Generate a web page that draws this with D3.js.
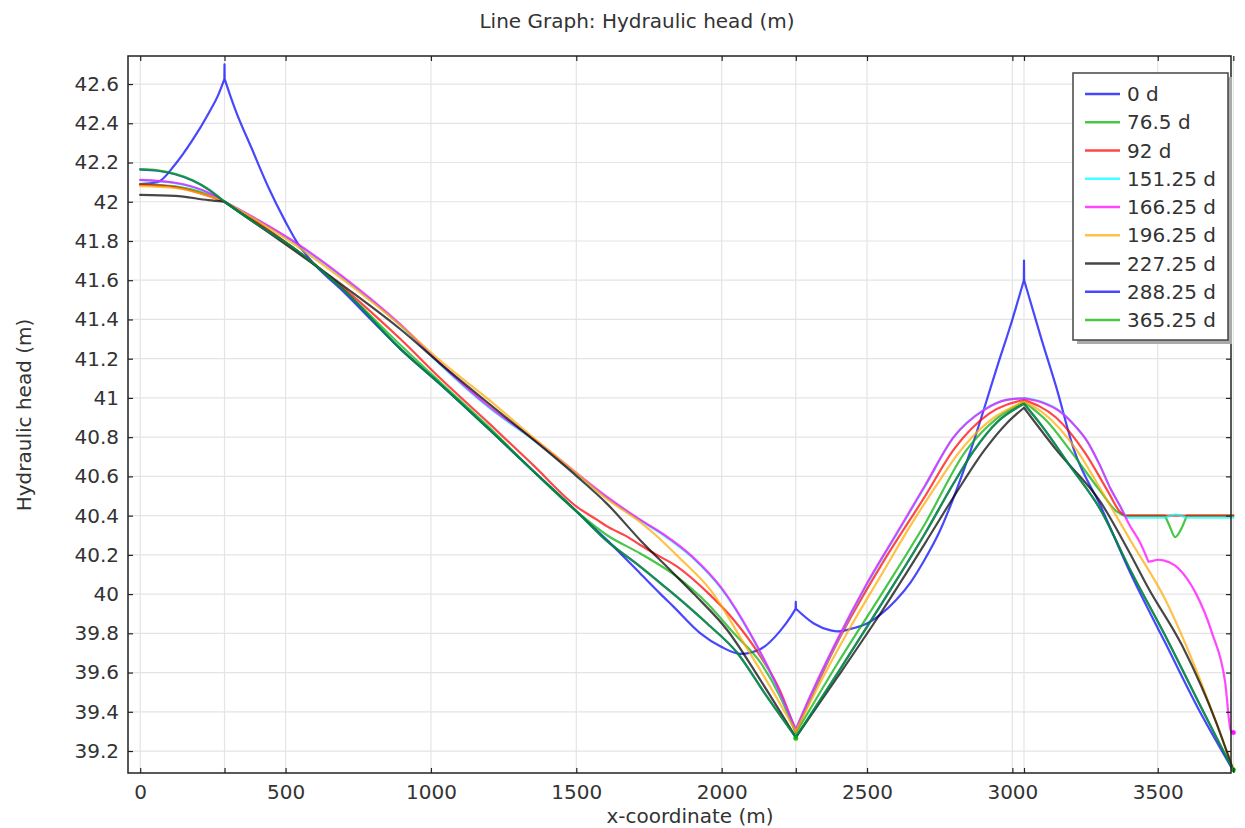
<!DOCTYPE html>
<html>
<head>
<meta charset="utf-8">
<script src="https://cdn.jsdelivr.net/npm/d3@7"></script>
<style>
  body { margin: 0; background: #fff; }
  text { font-family: "DejaVu Sans", sans-serif; fill: #333; }
</style>
</head>
<body>
<div id="chart"></div>
<script>
// ---- data: [x-coordinate (m), hydraulic head (m)] ----
const seriesNames = ["0 d", "76.5 d", "92 d", "151.25 d", "166.25 d", "196.25 d", "227.25 d", "288.25 d", "365.25 d"];

const head_0d = [[0,42.09],[60,42.10],[120,42.19],[178,42.31],[235,42.45],[270,42.55],[289.5,42.625],[290,42.70],[290.5,42.625],
  [310,42.54],[327,42.47],[384,42.27],[442,42.07],[499,41.90],[545,41.78],[600,41.68],[700,41.54],[800,41.39],[895,41.25],
  [1032,41.07],[1200,40.84],[1350,40.63],[1502,40.42],[1606,40.275],[1720,40.105],[1790,40.0],[1835,39.935],[1927,39.80],
  [2000,39.73],[2065,39.695],[2134,39.72],[2200,39.81],[2240,39.89],[2254.5,39.925],[2255,39.96],[2255.5,39.925],[2317,39.85],
  [2375,39.815],[2400,39.81],[2450,39.825],[2500,39.85],[2550,39.9],[2600,39.97],[2650,40.06],[2700,40.18],[2750,40.32],
  [2800,40.5],[2856,40.73],[2950,41.17],[3000,41.40],[3039.5,41.60],[3040,41.70],[3040.5,41.60],[3100,41.30],[3150,41.06],
  [3212,40.735],[3303,40.45],[3410,40.094],[3525,39.754],[3640,39.414],[3760,39.10]];

const head_76d = [[0,42.09],[120,42.078],[235,42.035],[290,42.0],[407,41.89],[522,41.77],[700,41.55],[895,41.27],[1032,41.08],
  [1200,40.85],[1350,40.63],[1502,40.42],[1606,40.30],[1720,40.207],[1835,40.1],[1950,39.953],[2042,39.80],[2134,39.65],
  [2200,39.48],[2255,39.29],[2400,39.65],[2550,40.0],[2700,40.36],[2840,40.73],[2950,40.90],[3040,40.98],[3120,40.88],
  [3200,40.73],[3300,40.53],[3360,40.42],[3385,40.40],[3525,40.40],[3540,40.35],[3560,40.29],[3580,40.33],[3600,40.40],[3760,40.40]];

const head_92d = [[0,42.087],[120,42.075],[235,42.03],[290,42.0],[407,41.89],[522,41.77],[700,41.56],[895,41.30],[1032,41.10],
  [1200,40.87],[1350,40.66],[1502,40.445],[1572,40.378],[1606,40.345],[1675,40.293],[1720,40.25],[1767,40.208],[1847,40.14],
  [1950,40.01],[2042,39.868],[2134,39.681],[2200,39.51],[2255,39.30],[2400,39.76],[2550,40.15],[2700,40.50],[2800,40.74],
  [2920,40.92],[3040,40.99],[3150,40.90],[3250,40.72],[3330,40.52],[3370,40.42],[3390,40.40],[3760,40.40]];

const head_151d = [[0,42.11],[120,42.095],[235,42.045],[290,42.0],[407,41.905],[522,41.80],[700,41.61],[895,41.37],[1032,41.17],
  [1200,40.95],[1376,40.76],[1502,40.61],[1606,40.49],[1721,40.375],[1800,40.30],[1900,40.185],[2000,40.025],[2100,39.79],
  [2180,39.56],[2255,39.31],[2300,39.46],[2400,39.77],[2500,40.05],[2600,40.30],[2700,40.55],[2798,40.80],[2902,40.94],
  [2980,40.99],[3040,41.0],[3100,40.98],[3166,40.93],[3220,40.85],[3257,40.78],[3300,40.66],[3340,40.53],[3370,40.45],
  [3392,40.39],[3520,40.39],[3545,40.40],[3560,40.405],[3580,40.40],[3600,40.39],[3760,40.39]];

const head_166d = [[0,42.112],[120,42.097],[235,42.046],[290,42.0],[407,41.906],[522,41.804],[700,41.615],[895,41.375],[1032,41.175],
  [1200,40.955],[1376,40.765],[1502,40.615],[1606,40.495],[1721,40.378],[1800,40.305],[1900,40.19],[2000,40.03],[2100,39.795],
  [2180,39.565],[2255,39.31],[2300,39.465],[2400,39.775],[2500,40.055],[2600,40.305],[2700,40.555],[2798,40.80],[2902,40.938],
  [2980,40.99],[3040,40.998],[3100,40.978],[3166,40.928],[3220,40.85],[3257,40.78],[3300,40.66],[3340,40.53],[3370,40.45],
  [3400,40.36],[3440,40.26],[3468,40.165],[3480,40.168],[3500,40.175],[3520,40.172],[3560,40.145],[3600,40.08],[3629,40.01],
  [3686,39.805],[3732,39.55],[3752,39.30],[3760,39.295]];

const head_196d = [[0,42.08],[120,42.07],[235,42.03],[290,42.0],[407,41.90],[522,41.79],[700,41.60],[895,41.37],[1032,41.19],
  [1200,40.99],[1350,40.80],[1502,40.615],[1600,40.49],[1710,40.378],[1766,40.31],[1858,40.18],[1962,40.02],[2076,39.75],
  [2170,39.52],[2255,39.30],[2350,39.58],[2450,39.85],[2550,40.1],[2650,40.35],[2750,40.58],[2810,40.71],[2925,40.887],
  [3040,40.98],[3100,40.93],[3223,40.73],[3303,40.536],[3410,40.264],[3525,39.975],[3640,39.584],[3700,39.35],[3760,39.11]];

const head_227d = [[0,42.035],[120,42.03],[235,42.008],[290,42.0],[407,41.88],[522,41.76],[700,41.57],[895,41.35],[1032,41.175],
  [1200,40.97],[1350,40.79],[1502,40.60],[1606,40.46],[1720,40.275],[1835,40.105],[1905,40.0],[2019,39.817],[2134,39.56],
  [2255,39.27],[2400,39.58],[2550,39.91],[2700,40.26],[2800,40.5],[2902,40.73],[2980,40.87],[3040,40.95],[3154,40.73],
  [3303,40.47],[3400,40.22],[3468,40.03],[3583,39.74],[3650,39.53],[3700,39.35],[3760,39.10]];

const head_288d = [[0,42.164],[60,42.158],[120,42.14],[180,42.108],[235,42.062],[290,42.0],[407,41.88],[522,41.77],[700,41.55],
  [895,41.25],[1032,41.07],[1200,40.84],[1350,40.63],[1502,40.42],[1606,40.27],[1720,40.14],[1790,40.055],[1835,40.0],
  [1950,39.85],[2054,39.70],[2150,39.49],[2255,39.27],[2400,39.60],[2550,39.95],[2700,40.31],[2800,40.57],[2867,40.73],
  [2950,40.88],[3040,40.97],[3100,40.86],[3200,40.65],[3303,40.43],[3410,40.11],[3525,39.79],[3640,39.45],[3760,39.10]];

const head_365d = [[0,42.166],[60,42.16],[120,42.142],[180,42.11],[235,42.064],[290,42.0],[407,41.88],[522,41.77],[700,41.55],
  [895,41.25],[1032,41.07],[1200,40.84],[1350,40.63],[1502,40.42],[1606,40.27],[1720,40.14],[1790,40.055],[1835,40.0],
  [1950,39.85],[2054,39.70],[2150,39.49],[2255,39.27],[2400,39.60],[2550,39.95],[2700,40.31],[2800,40.57],[2867,40.73],
  [2950,40.88],[3040,40.97],[3100,40.86],[3200,40.65],[3303,40.43],[3410,40.11],[3525,39.79],[3640,39.45],[3760,39.10]];

const allSeries = [head_0d, head_76d, head_92d, head_151d, head_166d, head_196d, head_227d, head_288d, head_365d];

// x where a curve has a corner (wells at 290, 2255, 3040 and a few bends on the right)
const wellKinks = [290, 2255, 3040];
const spikeKinks = [289.5, 290, 290.5, 2254.5, 2255, 2255.5, 3039.5, 3040, 3040.5];
const seriesKinks = [
  spikeKinks,
  wellKinks.concat([3385, 3525, 3600]),
  wellKinks.concat([3390]),
  wellKinks.concat([3392]),
  wellKinks.concat([3468]),
  wellKinks,
  wellKinks,
  wellKinks,
  wellKinks
];

// end-point markers seen on the picture: [series index, x, head]
const endDots = [[8, 2255, 39.265], [8, 3760, 39.105], [4, 3760, 39.295]];

// ticks
const xTicks = [0, 500, 1000, 1500, 2000, 2500, 3000, 3500];
const xPointTicks = [290, 2255, 3040, 3760];
const yTicks = [39.2, 39.4, 39.6, 39.8, 40, 40.2, 40.4, 40.6, 40.8, 41, 41.2, 41.4, 41.6, 41.8, 42, 42.2, 42.4, 42.6];

//////////////////////////////////////////////////////////////////////////////

const svgWidth = 1245, svgHeight = 828;
const plot = { left: 128, right: 1231, top: 56, bottom: 773 };

// pure colours, drawn semi-transparent so overlapping curves mix
const colors = ["#0000ff", "#00b000", "#ff0000", "#00ffff", "#ff00ff", "#ffaa00", "#000000", "#0000ff", "#00b000"];
const lineOpacity = 0.72;

const svg = d3.select("#chart")
  .append("svg")
  .attr("width", svgWidth)
  .attr("height", svgHeight);

const x = d3.scaleLinear().domain([-42, 3752]).range([plot.left, plot.right]);
const y = d3.scaleLinear().domain([39.088, 42.743]).range([plot.bottom, plot.top]);

// grid
const grid = svg.append("g");
grid.selectAll(".gx")
  .data(xTicks.concat(xPointTicks))
  .enter()
  .append("line")
  .attr("x1", d => x(d)).attr("x2", d => x(d))
  .attr("y1", plot.top).attr("y2", plot.bottom)
  .attr("stroke", "#e4e4e4")
  .attr("stroke-width", 1.2);
grid.selectAll(".gy")
  .data(yTicks)
  .enter()
  .append("line")
  .attr("x1", plot.left).attr("x2", plot.right)
  .attr("y1", d => y(d)).attr("y2", d => y(d))
  .attr("stroke", "#e4e4e4")
  .attr("stroke-width", 1.2);

//////////////////////////////////////////////////////////////////////////////
// lines: smooth between corners, sharp at the corners

const line = d3.line()
  .x(d => x(d[0]))
  .y(d => y(d[1]))
  .curve(d3.curveMonotoneX);

function splitAtKinks(data, kinks) {
  const parts = [];
  let cur = [];
  data.forEach(function(p, i) {
    cur.push(p);
    if (i > 0 && i < data.length - 1 && kinks.includes(p[0])) {
      parts.push(cur);
      cur = [p];
    }
  });
  parts.push(cur);
  return parts;
}

svg.append("g")
  .selectAll("path")
  .data(allSeries)
  .enter()
  .append("path")
  .attr("d", (d, i) => splitAtKinks(d, seriesKinks[i]).map(seg => line(seg)).join(""))
  .attr("fill", "none")
  .attr("stroke", (d, i) => colors[i])
  .attr("stroke-opacity", lineOpacity)
  .attr("stroke-width", 2.2)
  .attr("stroke-linejoin", "round")
  .attr("stroke-linecap", "round");

svg.append("g")
  .selectAll("circle")
  .data(endDots)
  .enter()
  .append("circle")
  .attr("cx", d => x(d[1]))
  .attr("cy", d => y(d[2]))
  .attr("r", 2.5)
  .attr("fill", d => colors[d[0]])
  .attr("fill-opacity", 0.85);

//////////////////////////////////////////////////////////////////////////////
// axes: all ticks point inwards, frame on four sides

const tickLen = 5;
const bottomAxis = d3.axisBottom(x).tickValues(xTicks.concat(xPointTicks)).tickSize(-tickLen).tickPadding(12)
  .tickFormat(d => xTicks.includes(d) ? d : "");
const topAxis = d3.axisTop(x).tickValues(xTicks.concat(xPointTicks)).tickSize(-tickLen).tickFormat("");
const leftAxis = d3.axisLeft(y).tickValues(yTicks).tickSize(-tickLen).tickPadding(9)
  .tickFormat(d => +d.toFixed(1));
const rightAxis = d3.axisRight(y).tickValues(yTicks).tickSize(-tickLen).tickFormat("");

function styleAxis(g) {
  g.select(".domain").remove();
  g.selectAll(".tick line").attr("stroke", "#222").attr("stroke-width", 1.2);
  g.selectAll("text").style("font-size", "20px").attr("fill", "#333");
}

svg.append("g").attr("transform", `translate(0, ${plot.bottom})`).call(bottomAxis).call(styleAxis);
svg.append("g").attr("transform", `translate(0, ${plot.top})`).call(topAxis).call(styleAxis);
svg.append("g").attr("transform", `translate(${plot.left}, 0)`).call(leftAxis).call(styleAxis);
svg.append("g").attr("transform", `translate(${plot.right}, 0)`).call(rightAxis).call(styleAxis);

svg.append("rect")
  .attr("x", plot.left).attr("y", plot.top)
  .attr("width", plot.right - plot.left)
  .attr("height", plot.bottom - plot.top)
  .attr("fill", "none")
  .attr("stroke", "#222")
  .attr("stroke-width", 1.5);

// titles
svg.append("text")
  .attr("x", 637).attr("y", 28)
  .attr("text-anchor", "middle")
  .style("font-size", "20px")
  .text("Line Graph: Hydraulic head (m)");

svg.append("text")
  .attr("x", 690).attr("y", 823)
  .attr("text-anchor", "middle")
  .style("font-size", "20px")
  .text("x-coordinate (m)");

svg.append("text")
  .attr("transform", "rotate(-90)")
  .attr("x", -415).attr("y", 31)
  .attr("text-anchor", "middle")
  .style("font-size", "20px")
  .text("Hydraulic head (m)");

//////////////////////////////////////////////////////////////////////////////
// legend

const legend = svg.append("g").attr("transform", "translate(1073, 73)");
const legendW = 155, legendH = 267, rowH = 28.25;

legend.append("rect")
  .attr("x", 4).attr("y", 4)
  .attr("width", legendW).attr("height", legendH)
  .attr("fill", "#aaa");
legend.append("rect")
  .attr("width", legendW).attr("height", legendH)
  .attr("fill", "#fff")
  .attr("stroke", "#444")
  .attr("stroke-width", 1.5);

const rows = legend.selectAll(".row")
  .data(seriesNames)
  .enter()
  .append("g")
  .attr("transform", (d, i) => `translate(0, ${21 + i * rowH})`);

rows.append("line")
  .attr("x1", 12).attr("x2", 47)
  .attr("stroke", (d, i) => colors[i])
  .attr("stroke-opacity", lineOpacity)
  .attr("stroke-width", 2.5);

rows.append("text")
  .attr("x", 54).attr("y", 7)
  .style("font-size", "20px")
  .text(d => d);
</script>
</body>
</html>
